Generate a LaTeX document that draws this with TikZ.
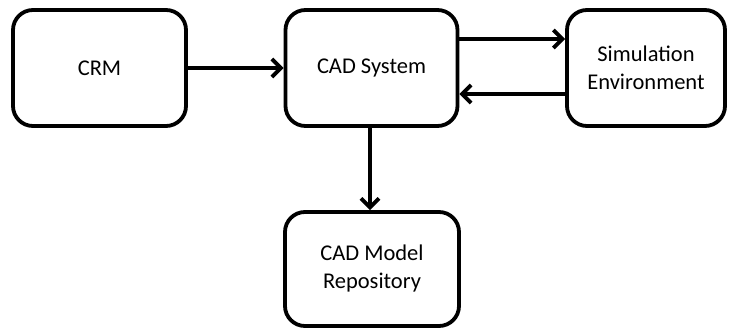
\documentclass[tikz,border=0pt]{standalone}
\usepackage{fontspec}
\setmainfont{Carlito}
\usetikzlibrary{arrows.meta}
\begin{document}
\begin{tikzpicture}[x=1pt,y=-1pt,
  blk/.style={draw=black,line width=3.8pt,rounded corners=20pt,fill=white,
    inner sep=0pt,align=center,font=\fontsize{22.5}{28}\selectfont},
  flow/.style={line width=3.8pt,-{Straight Barb[length=9pt,width=18pt,line width=3.8pt]}}]
\useasboundingbox (0,0) rectangle (731,331);
\node[blk,minimum width=173pt,minimum height=116pt] (crm) at (99.5,68) {CRM};
\node[blk,minimum width=172pt,minimum height=116pt] (cad) at (371.5,68) {CAD System};
\node[blk,minimum width=158pt,minimum height=116pt] (sim) at (646,68) {Simulation\\Environment};
\node[blk,minimum width=174pt,minimum height=114pt] (rep) at (372,269) {CAD Model\\Repository};
\draw[flow] (crm.east) -- (cad.west);
\draw[flow] (cad.east |- 0,39) -- (sim.west |- 0,39);
\draw[flow] (sim.west |- 0,94) -- (cad.east |- 0,94);
\draw[flow] (370,0 |- cad.south) -- (370,0 |- rep.north);
\end{tikzpicture}
\end{document}
